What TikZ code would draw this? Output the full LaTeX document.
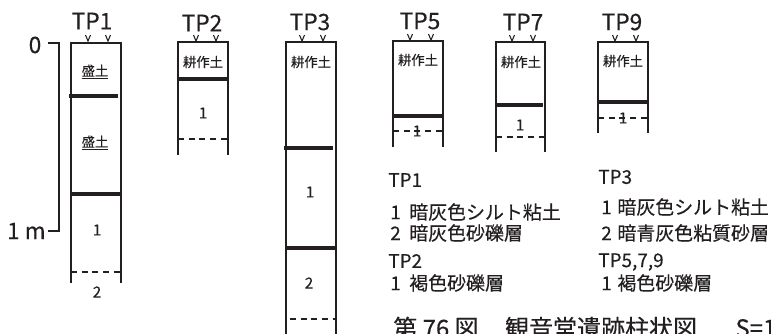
\documentclass[tikz,border=0pt]{standalone}
\usepackage{fontspec}
\setmainfont{Noto Sans CJK JP}[FakeBold=0.3]
\definecolor{ink}{HTML}{231F20}

\begin{document}
\begin{tikzpicture}[x=0.75pt, y=-0.75pt, color=ink,
  col/.style={line width=2pt},
  layer/.style={line width=2.4pt},
  bed/.style={line width=2pt, dash pattern=on 4.5pt off 3.5pt},
  tp/.style={font=\fontsize{17}{17}\selectfont, inner sep=0pt},
  lbl/.style={font=\fontsize{10}{10}\selectfont, inner sep=0pt},
  num/.style={font=\fontsize{11.5}{11.5}\selectfont, inner sep=0pt},
  note/.style={font=\fontsize{14.2}{14.2}\selectfont, inner sep=0pt, anchor=west},
  tick/.pic={\draw[line width=0.8pt] (-2.5,-6) -- (0,0) -- (2.5,-6);}]
\path[use as bounding box, clip] (0,0) rectangle (771,333);

% scale
\node[tp] (zero) at (35,45) {0};
\node[tp, anchor=east] (onem) at (46,231) {1 m};
\draw[line width=0.8pt] (48,43) -| (59,231) -- (48,231);

% TP1
\node[tp] (tp1) at (92,21) {TP1};
\pic at (88,41) {tick}; \pic at (108,41) {tick};
\draw[col] (71,283) |- (121,43) -- (121,283);
\draw[layer] (69,96) -- (118,96);
\draw[layer] (72,194) -- (120,194);
\draw[bed] (71,272) -- (121,272);
\node[lbl] (tp1a) at (95,72) {\underline{盛土}};
\node[lbl] (tp1b) at (95,143) {\underline{盛土}};
\node[num] (tp1c) at (97,230) {1};
\node[num] (tp1d) at (97,292) {2};

% TP2
\node[tp] (tp2) at (202,23) {TP2};
\pic at (196,41) {tick}; \pic at (216,41) {tick};
\draw[col] (178,155) |- (228,42) -- (228,155);
\draw[layer] (178,79) -- (228,79);
\draw[bed] (178,139) -- (228,139);
\node[lbl] (tp2a) at (203,62) {耕作土};
\node[num] (tp2b) at (203,113) {1};

% TP3
\node[tp] (tp3) at (310,22) {TP3};
\pic at (302,41) {tick}; \pic at (323,41) {tick};
\draw[col] (286,345) |- (336,42) -- (336,345);
\draw[layer] (284,148) -- (333,148);
\draw[layer] (286,248) -- (336,248);
\draw[bed] (290,319) -- (336,319);
\node[lbl] (tp3a) at (311,62) {耕作土};
\node[num] (tp3b) at (310,192) {1};
\node[num] (tp3c) at (309,283) {2};

% TP5
\node[tp] (tp5) at (420,21) {TP5};
\pic at (410,40) {tick}; \pic at (431,40) {tick};
\draw[col] (393,147) |- (443,41) -- (443,147);
\draw[layer] (393,116) -- (443,116);
\draw[bed] (393,131) -- (443,131);
\node[lbl] (tp5a) at (418,60) {耕作土};
\node[num] (tp5b) at (417,131) {1};

% TP7
\node[tp] (tp7) at (523,22) {TP7};
\pic at (512,41) {tick}; \pic at (533,41) {tick};
\draw[col] (496,152) |- (545,42) -- (545,152);
\draw[layer] (495,105) -- (543,105);
\draw[bed] (496,137) -- (545,137);
\node[lbl] (tp7a) at (521,62) {耕作土};
\node[num] (tp7b) at (520,125) {1};

% TP9
\node[tp] (tp9) at (622,22) {TP9};
\pic at (615,41) {tick}; \pic at (636,41) {tick};
\draw[col] (598,133) |- (648,42) -- (648,133);
\draw[layer] (598,102) -- (648,102);
\draw[bed] (598,118) -- (648,118);
\node[lbl] (tp9a) at (623,61) {耕作土};
\node[num] (tp9b) at (623,118) {1};

% legend
\node[note] (k1) at (388,180) {TP1};
\node[note] (k1a) at (390,212) {1\hspace{0.45em}暗灰色シルト粘土};
\node[note] (k1b) at (390,233) {2\hspace{0.45em}暗灰色砂礫層};
\node[note] (k2) at (388,261) {TP2};
\node[note] (k2a) at (390,283) {1\hspace{0.45em}褐色砂礫層};
\node[note] (k3) at (598,177) {TP3};
\node[note] (k3a) at (601,207) {1\hspace{0.3em}暗灰色シルト粘土};
\node[note] (k3b) at (601,233) {2\hspace{0.3em}暗青灰色粘質砂層};
\node[note] (k4) at (598,262) {TP5,7,9};
\node[note] (k4a) at (601,283) {1\hspace{0.3em}褐色砂礫層};

% caption
\node[font=\fontsize{18}{18}\selectfont, inner sep=0pt, anchor=base west] (cap)
  at (393,337) {第 76 図\hspace{1.1em}観音堂遺跡柱状図\hspace{1.6em}S=1};
\end{tikzpicture}
\end{document}
